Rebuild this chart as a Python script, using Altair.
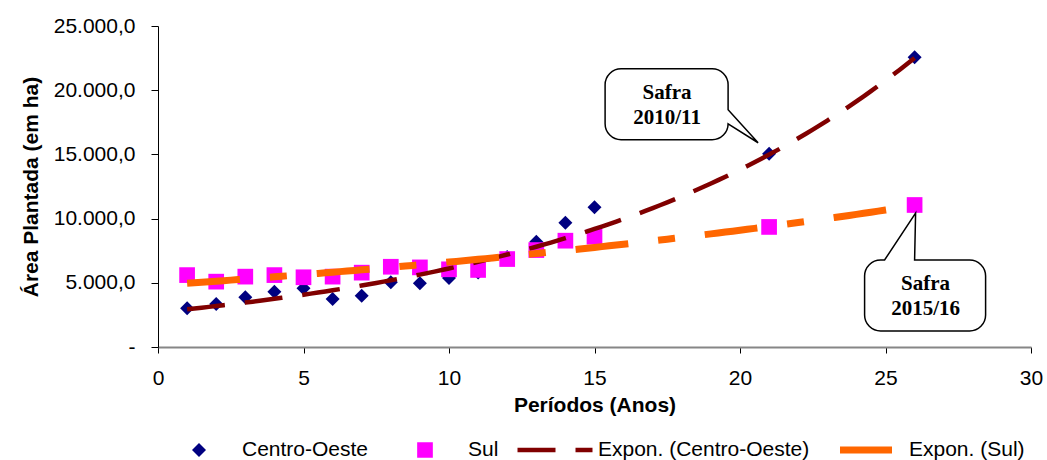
import altair as alt
import pandas as pd

# ---------------- data ----------------
periodos = [1, 2, 3, 4, 5, 6, 7, 8, 9, 10, 11, 12, 13, 14, 15, 21, 26]
area_centro_oeste = [3010, 3350, 3870, 4310, 4570, 3740, 4000, 5050, 4970, 5370,
                     5800, 7000, 8200, 9680, 10880, 15050, 22560]
area_sul = [5600, 5090, 5480, 5600, 5430, 5480, 5790, 6250, 6200, 6050,
            6000, 6850, 7550, 8280, 8590, 9350, 11060]

series = ["Centro-Oeste", "Sul"]
legenda = ["Centro-Oeste", "Sul", "Expon. (Centro-Oeste)", "Expon. (Sul)"]
cores = ["#000080", "#FF00FF", "#800000", "#FF6600"]

x_ticks = [0, 5, 10, 15, 20, 25, 30]
y_ticks = [0, 5000, 10000, 15000, 20000, 25000]

balao_textos = ["Safra\n2010/11", "Safra\n2015/16"]
balao_periodos = [21, 26]
balao_areas = [area_centro_oeste[periodos.index(21)], area_sul[periodos.index(26)]]

# ---------------- tables ----------------
df = pd.DataFrame({
    "periodo": periodos + periodos,
    "area": area_centro_oeste + area_sul,
    "serie": [series[0]] * len(periodos) + [series[1]] * len(periodos),
})
df["legenda"] = df["serie"]

anno = pd.DataFrame({"periodo": balao_periodos, "area": balao_areas, "texto": balao_textos})

FONT = "Liberation Sans"
FS = 21

x_axis = alt.Axis(values=x_ticks, format="d", title="Períodos (Anos)",
                  labelFont=FONT, labelFontSize=FS, labelColor="black", labelPadding=14,
                  labelFlush=False, labelOverlap=False,
                  tickSize=6, tickColor="black", domainColor="#868686", domainWidth=2,
                  grid=False, titleFont=FONT, titleFontSize=FS, titleFontWeight="bold",
                  titleColor="black", titleY=58, titleBaseline="middle")
y_axis = alt.Axis(values=y_ticks, title="Área Plantada (em ha)",
                  labelExpr="datum.value == 0 ? '-\u00a0\u00a0' : format(datum.value / 1000, 'd') + '.000,0'",
                  labelFont=FONT, labelFontSize=FS, labelColor="black", labelPadding=16,
                  labelFlush=False, labelOverlap=False,
                  tickSize=7, tickColor="black", domainColor="black", domainWidth=1,
                  grid=False, titleFont=FONT, titleFontSize=FS, titleFontWeight="bold",
                  titleColor="black", titleX=-127, titleAngle=270, titleBaseline="middle",
                  titleAlign="center")


def pick(vals):
    expr = vals[-1]
    for name, v in list(zip(legenda, vals))[-2::-1]:
        expr = f"datum.value == '{name}' ? {v} : ({expr})"
    return {"expr": expr}


leg = alt.Legend(
    title=None, orient="none", legendX=1, legendY=412, direction="horizontal",
    columns=4, columnPadding=16, padding=0, clipHeight=24,
    labelFont=FONT, labelFontSize=FS, labelColor="black", labelLimit=500,
    symbolOffset=29.5, labelOffset=32.5,
    symbolType=pick(["'diamond'", "'square'", "'stroke'", "'stroke'"]),
    symbolSize=pick([196, 246, 5625, 2704]),
    symbolStrokeWidth=pick([0, 0, 4.5, 7]),
    symbolDash=pick(["[1, 0]", "[1, 0]", "[38, 20]", "[1, 0]"]),
    symbolFillColor=pick([f"'{cores[0]}'", f"'{cores[1]}'", "'transparent'", "'transparent'"]),
    symbolStrokeColor=pick([f"'{c}'" for c in cores]),
    symbolOpacity=1,
)

X = alt.X("periodo:Q", scale=alt.Scale(domain=[0, 30], nice=False, zero=False), axis=x_axis)
Y = alt.Y("area:Q", scale=alt.Scale(domain=[0, 25000], nice=False), axis=y_axis)
C = alt.Color("legenda:N", scale=alt.Scale(domain=legenda, range=cores), legend=leg)

base = alt.Chart(df)

pts_co = base.transform_filter(alt.datum.serie == series[0]).mark_point(
    shape="diamond", filled=True, size=196, opacity=1, strokeWidth=0).encode(x=X, y=Y, color=C)
pts_sul = base.transform_filter(alt.datum.serie == series[1]).mark_point(
    shape="square", filled=True, size=246, opacity=1, strokeWidth=0).encode(x=X, y=Y, color=C)


def tendencia(serie, dash, width):
    # Excel-style exponential trendline: least squares on ln(y), sampled on a fine grid
    return (base.transform_filter(alt.datum.serie == serie)
            .transform_impute(impute="area", key="periodo",
                              keyvals=alt.ImputeSequence(start=min(periodos), stop=max(periodos) + 0.01, step=0.25),
                              groupby=["serie"], value=-1)
            .transform_calculate(w="datum.area > 0 ? 1 : 0",
                                 ly="datum.area > 0 ? log(datum.area) : 0")
            .transform_calculate(wx="datum.w * datum.periodo",
                                 wxx="datum.w * datum.periodo * datum.periodo",
                                 wxly="datum.w * datum.periodo * datum.ly")
            .transform_joinaggregate(n="sum(w)", sx="sum(wx)", sxx="sum(wxx)",
                                     sly="sum(ly)", sxly="sum(wxly)")
            .transform_calculate(b="(datum.n * datum.sxly - datum.sx * datum.sly) / (datum.n * datum.sxx - datum.sx * datum.sx)")
            .transform_calculate(area="exp((datum.sly - datum.b * datum.sx) / datum.n + datum.b * datum.periodo)",
                                 legenda="'Expon. (' + datum.serie + ')'")
            .mark_line(strokeDash=dash, strokeWidth=width)
            .encode(x=X, y=Y, color=C))


lin_co = tendencia(series[0], [38, 20], 4.5)
lin_sul = tendencia(series[1], [53, 30, 17, 30], 7)


def balao(L, T, R, B, r, tail):
    a = f"A{r},{r} 0 0 1"
    if tail[0] == "right":
        _, ya, tx, ty, yb = tail
        return (f"M{L + r},{T} H{R - r} {a} {R},{T + r} V{ya} L{tx},{ty} L{R},{yb} V{B - r} "
                f"{a} {R - r},{B} H{L + r} {a} {L},{B - r} V{T + r} {a} {L + r},{T} Z")
    _, xa, tx, ty, xb = tail
    return (f"M{L + r},{T} H{xa} L{tx},{ty} L{xb},{T} H{R - r} {a} {R},{T + r} V{B - r} "
            f"{a} {R - r},{B} H{L + r} {a} {L},{B - r} V{T + r} {a} {L + r},{T} Z")


formas = [
    balao(-164, -85, -41, -14, 16, ("right", -44, -11, -11, -30)),
    balao(-50, 55, 71, 126, 16, ("top", -30, 1, 8, 0)),
]
desloc = [(-102, -61), (11, 79)]

anotacoes = []
for i in range(len(balao_textos)):
    ch = alt.Chart(anno.iloc[[i]])
    anotacoes.append(ch.mark_point(shape=formas[i], size=4, filled=True, fill="white",
                                   stroke="black", strokeWidth=1.5, opacity=1)
                     .encode(x=X, y=Y))
    anotacoes.append(ch.mark_text(font="Liberation Serif", fontWeight="bold", fontSize=21,
                                  lineHeight=25, lineBreak="\n", align="center", baseline="middle",
                                  color="black", dx=desloc[i][0], dy=desloc[i][1])
                     .encode(x=X, y=Y, text="texto:N"))

chart = alt.layer(pts_co, pts_sul, lin_co, lin_sul, *anotacoes).properties(
    width=873, height=321,
    autosize=alt.AutoSizeParams(type="none"),
    padding={"left": 158, "top": 26, "right": 16, "bottom": 113},
    background="white",
).configure_view(stroke=None)

chart.save("out.html", embed_options={"renderer": "svg", "actions": False})
